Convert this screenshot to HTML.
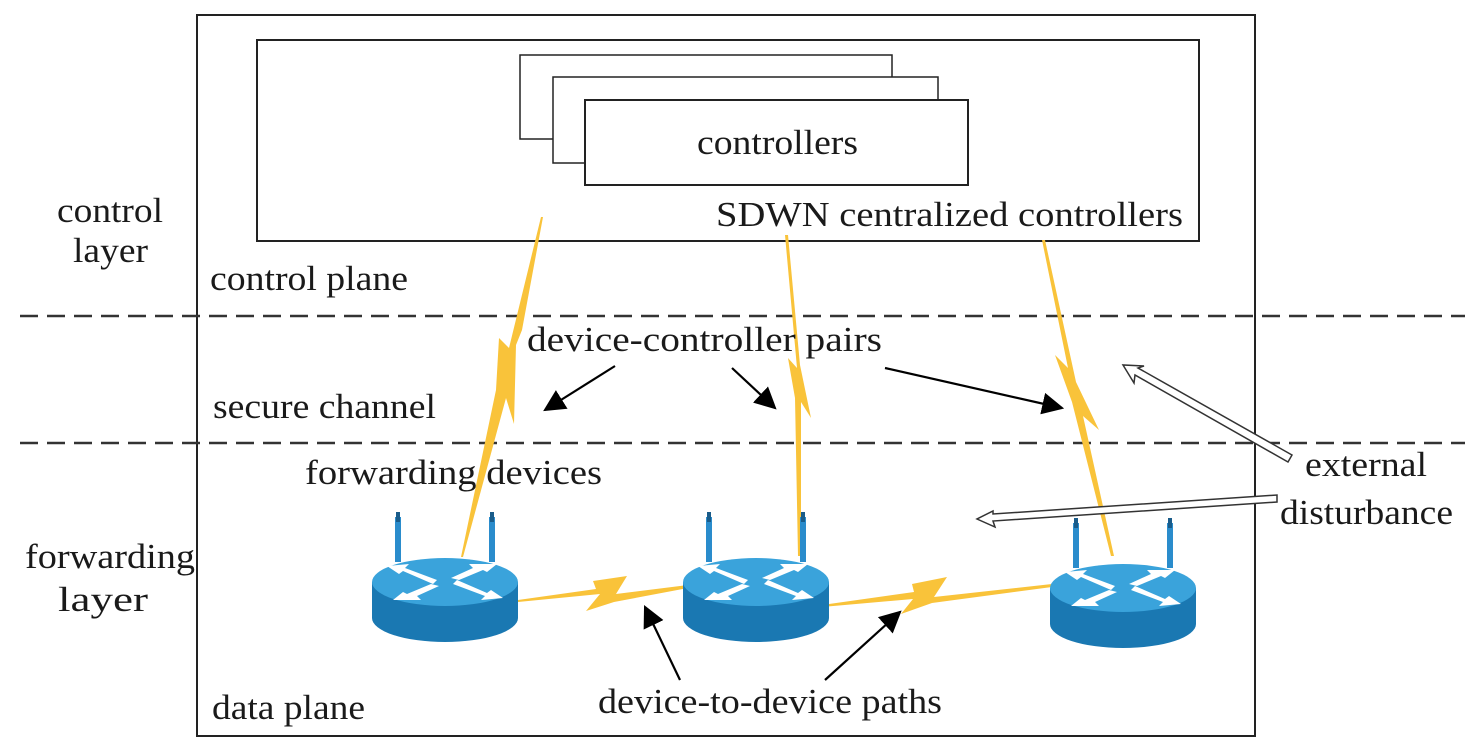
<!DOCTYPE html>
<html><head><meta charset="utf-8"><style>
html,body{margin:0;padding:0;background:#fff;}
svg{display:block;}
text{font-family:"Liberation Serif",serif;font-size:35px;fill:#1a1a1a;}
</style></head><body>
<svg width="1469" height="751" viewBox="0 0 1469 751" xmlns="http://www.w3.org/2000/svg">
<defs>
<marker id="ah2" viewBox="0 0 10 10" markerWidth="22" markerHeight="22" refX="9" refY="5" orient="auto" markerUnits="userSpaceOnUse">
<path d="M0,0 L10,5 L0,10 Z" fill="#000"/>
</marker>
<g id="router">
<rect x="-50" y="-65" width="6" height="45" fill="#2a8ccc"/>
<rect x="-49" y="-70" width="4" height="10" fill="#1a5c8a"/>
<rect x="44" y="-65" width="6" height="45" fill="#2a8ccc"/>
<rect x="45" y="-70" width="4" height="10" fill="#1a5c8a"/>
<path d="M-73,0 L-73,36 A73,24 0 0 0 73,36 L73,0 Z" fill="#1a78b2"/>
<ellipse cx="0" cy="0" rx="73" ry="24" fill="#3aa3db"/>
<g fill="#fff">
<path d="M-8,-2 L-40,-14 L-36,-18 L-58,-16 L-46,-8 L-42,-11 L-12,2 Z"/>
<path d="M8,2 L40,14 L36,18 L58,16 L46,8 L42,11 L12,-2 Z"/>
<path d="M6,-4 L28,-14 L24,-18 L52,-18 L42,-10 L38,-12 L14,-2 Z"/>
<path d="M-6,4 L-28,14 L-24,18 L-52,18 L-42,10 L-38,12 L-14,2 Z"/>
</g>
</g>
</defs>

<rect x="197" y="15" width="1058" height="721" fill="none" stroke="#222" stroke-width="2"/>
<rect x="257" y="40" width="942" height="201" fill="#fff" stroke="#222" stroke-width="2"/>
<rect x="520" y="55" width="372" height="84" fill="#fff" stroke="#222" stroke-width="1.5"/>
<rect x="553" y="77" width="385" height="86" fill="#fff" stroke="#222" stroke-width="1.5"/>
<rect x="585" y="100" width="383" height="85" fill="#fff" stroke="#222" stroke-width="2"/>
<text x="697" y="154" textLength="161" lengthAdjust="spacingAndGlyphs">controllers</text>
<text x="716" y="226" textLength="467" lengthAdjust="spacingAndGlyphs">SDWN centralized controllers</text>

<line x1="20" y1="316" x2="1465" y2="316" stroke="#333" stroke-width="2.5" stroke-dasharray="18,9"/>
<line x1="20" y1="443" x2="1465" y2="443" stroke="#333" stroke-width="2.5" stroke-dasharray="18,9"/>

<g fill="#f9c33a">
<polygon points="541,217 543,217 522,330 516,345 514,424 506,398 463,557 461,557 496,390 499,338 509,348"/>
<polygon points="785,235 788,235 800,365 811,418 801,402 801,556 798,556 795,398 788,358 797,368"/>
<polygon points="1042,240 1045,240 1076,382 1099,430 1083,416 1114,556 1111,556 1072,402 1055,355 1068,368"/>
<polygon points="518,600 596,589 593,581 627,576 616,594 688,585 688,588 614,602 586,611 600,594 518,602"/>
<polygon points="822,605 914,592 912,584 947,577 934,597 1052,584 1052,587 932,603 901,614 913,599 822,607"/>
</g>

<use href="#router" x="445" y="582"/>
<use href="#router" x="756" y="582"/>
<use href="#router" x="1123" y="588"/>

<text x="57" y="222" textLength="106" lengthAdjust="spacingAndGlyphs">control</text>
<text x="73" y="262" textLength="75" lengthAdjust="spacingAndGlyphs">layer</text>
<text x="210" y="290" textLength="198" lengthAdjust="spacingAndGlyphs">control plane</text>
<text x="527" y="351" textLength="355" lengthAdjust="spacingAndGlyphs">device-controller  pairs</text>
<text x="213" y="418" textLength="223" lengthAdjust="spacingAndGlyphs">secure channel</text>
<text x="305" y="484" textLength="297" lengthAdjust="spacingAndGlyphs">forwarding devices</text>
<text x="25" y="568" textLength="170" lengthAdjust="spacingAndGlyphs">forwarding</text>
<text x="58" y="611" textLength="90" lengthAdjust="spacingAndGlyphs">layer</text>
<text x="212" y="719" textLength="153" lengthAdjust="spacingAndGlyphs">data plane</text>
<text x="598" y="713" textLength="344" lengthAdjust="spacingAndGlyphs">device-to-device paths</text>
<text x="1305" y="476" textLength="122" lengthAdjust="spacingAndGlyphs">external</text>
<text x="1280" y="524" textLength="173" lengthAdjust="spacingAndGlyphs">disturbance</text>

<g stroke="#000" stroke-width="2.2" fill="none">
<line x1="615" y1="366" x2="545" y2="410" marker-end="url(#ah2)"/>
<line x1="732" y1="368" x2="775" y2="408" marker-end="url(#ah2)"/>
<line x1="885" y1="368" x2="1062" y2="408" marker-end="url(#ah2)"/>
<line x1="680" y1="680" x2="645" y2="607" marker-end="url(#ah2)"/>
<line x1="825" y1="680" x2="900" y2="612" marker-end="url(#ah2)"/>
</g>

<polygon points="1292,455 1288,462 1135,375 1134,383 1123,365 1144,366 1138,368" fill="#fff" stroke="#333" stroke-width="1.5"/>
<polygon points="1277,495 1277,502 993,521 995,527 977,519 993,511 993,514" fill="#fff" stroke="#333" stroke-width="1.5"/>
</svg>
</body></html>
